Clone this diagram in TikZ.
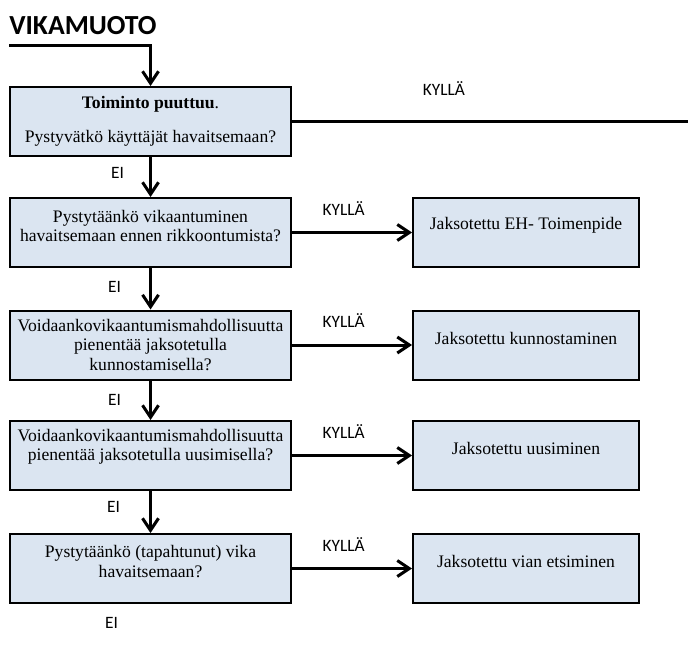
\documentclass[tikz,border=0pt]{standalone}
\usepackage{fontspec}
\setmainfont{Liberation Serif}
\newfontfamily\calibri{Carlito}
\usetikzlibrary{positioning,calc,arrows.meta}
\definecolor{boxfill}{RGB}{219,229,241}
\tikzset{
  qbox/.style    = {rectangle,draw,line width=1.5pt,fill=boxfill,
                    minimum width=211pt,minimum height=51.75pt},
  abox/.style    = {rectangle,draw,line width=1.5pt,fill=boxfill,
                    minimum width=169.5pt,minimum height=51.75pt},
  boxtext/.style = {inner sep=0pt,align=center,
                    font=\fontsize{13.2}{14.3}\selectfont},
  answer/.style  = {inner sep=0pt,font=\calibri\fontsize{13}{15}\selectfont},
  flow/.style    = {line width=2.25pt},
  >={Straight Barb[length=9pt,width=12pt]}
}
\newcommand{\DrawStep}[5]{%
  % draws the question box (left column)
  \node[qbox] (q#1) at (150.5,#2) {};
  % displays the question text
  \node[boxtext] (qt#1) at ($(q#1.center)+(0,#5)$) {#3};
  % draws the action box (right column)
  \node[abox] (a#1) at (526,#2) {};
  % displays the action text
  \node[boxtext] (act#1) at ($(a#1.center)+(0,-7)$) {#4};
  % yes arrow and its label
  \draw[flow,->] (q#1) -- (a#1);
  \node[answer] (yes#1) at ($(q#1.east)!0.43!(a#1.west)+(0,-24)$) {KYLLÄ};
}

\begin{document}
\begin{tikzpicture}[x=0.75pt,y=-0.75pt]
    \useasboundingbox (0,0) rectangle (688,659);

    % title and entry line
    \node[anchor=west,inner sep=0pt,font=\calibri\bfseries\fontsize{20.7}{24}\selectfont]
      (title) at (9,26) {VIKAMUOTO};
    \coordinate (entry) at (9,46);

    % first question, its yes line runs off the page
    \node[qbox] (q1) at (150.5,121.5) {};
    \node[boxtext] (qt1) at (q1.center)
      {\textbf{Toiminto puuttuu}.\\[11pt]Pystyvätkö käyttäjät havaitsemaan?};
    \draw[flow,->] (entry) -| (q1.north);
    \coordinate (exit) at (688,0);
    \draw[flow] (q1.east) -- (q1.east -| exit);
    \node[answer] (yes1) at (444,89) {KYLLÄ};

    \DrawStep{2}{232.5}
    {Pystytäänkö vikaantuminen\\havaitsemaan ennen rikkoontumista?}
    {Jaksotettu EH- Toimenpide}{-6.5}

    \DrawStep{3}{345}
    {Voidaankovikaantumismahdollisuutta\\pienentää jaksotetulla\\kunnostamisella?}
    {Jaksotettu kunnostaminen}{0}

    \DrawStep{4}{455.5}
    {Voidaankovikaantumismahdollisuutta\\pienentää jaksotetulla uusimisella?}
    {Jaksotettu uusiminen}{-8.5}

    \DrawStep{5}{568.5}
    {Pystytäänkö (tapahtunut) vika\\havaitsemaan?}
    {Jaksotettu vian etsiminen}{-7}

    % no arrows down the left column
    \draw[flow,->] (q1) -- (q2);
    \node[answer] (no1) at ($(q1.south)!0.4!(q2.north)+(-33,0)$) {EI};
    \draw[flow,->] (q2) -- (q3);
    \node[answer] (no2) at ($(q2.south)!0.45!(q3.north)+(-36,0)$) {EI};
    \draw[flow,->] (q3) -- (q4);
    \node[answer] (no3) at ($(q3.south)!0.5!(q4.north)+(-36,0)$) {EI};
    \draw[flow,->] (q4) -- (q5);
    \node[answer] (no4) at ($(q4.south)!0.37!(q5.north)+(-37,0)$) {EI};
    \node[answer] (no5) at ($(q5.south)+(-39,19)$) {EI};
  \end{tikzpicture}
\end{document}
